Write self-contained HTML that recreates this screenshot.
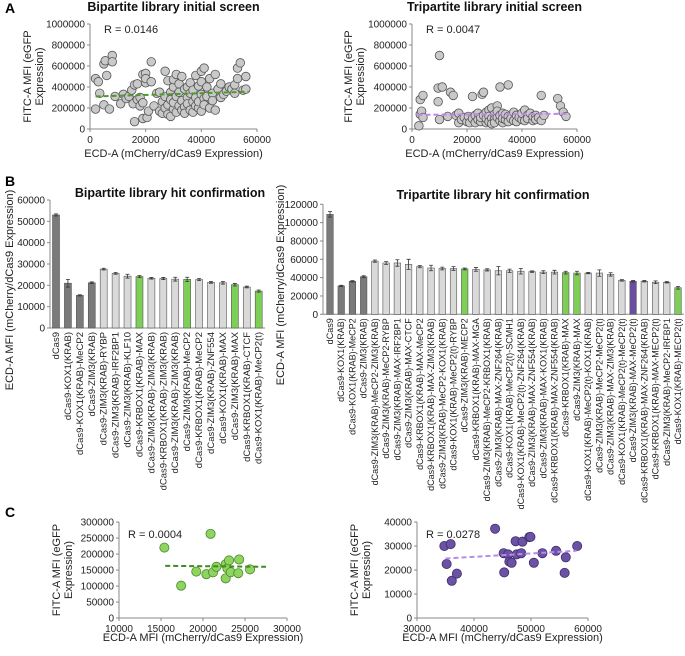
<!DOCTYPE html>
<html><head><meta charset="utf-8"><style>
html,body{margin:0;padding:0;background:#fff}
svg{display:block;font-family:"Liberation Sans",Arial,sans-serif}
</style></head><body>
<svg id="fig" width="685" height="656" viewBox="0 0 685 656" xmlns="http://www.w3.org/2000/svg">
<text x="5" y="13" font-size="14" font-weight="bold">A</text>
<text x="5" y="186" font-size="14" font-weight="bold">B</text>
<text x="5" y="517" font-size="14" font-weight="bold">C</text>
</svg>
<script>
// ---- Panel A data (x in thousands, y in thousands) ----
const aLeftX=[2,2,3,3.5,5,5,5.5,6,7,8,8,9,11,12,13,14,15,15.5,16,16,17,17,18,18,19,19,19,20,20,20,20.5,21,22,22,23,24,25,25,26,26,27,27,27,28,28,28,29,29,29,30,30,30,30,31,31,31,32,32,32,33,33,33,34,34,34,35,35,35,36,36,36,37,37,37,38,38,38,39,39,39,40,40,40,40,41,41,41,42,42,43,43,44,44,45,45,46,47,47,48,49,50,51,52,52,53,53,54,55,56,56];
const aLeftY=[480,190,450,340,230,620,650,510,190,700,640,310,240,330,290,310,370,240,420,70,280,430,300,220,520,250,100,440,530,480,110,170,640,450,220,340,350,170,150,260,550,310,200,140,460,230,120,350,280,190,400,470,250,520,160,310,220,430,350,180,270,500,210,380,150,300,400,240,180,340,440,260,160,370,220,300,510,200,410,260,450,330,170,550,580,290,230,400,310,480,200,340,270,520,180,380,300,430,330,360,400,380,420,340,580,480,630,370,500,380];
const aLeftFit=[[2,310],[57,355]];
const aRightX=[2.5,3,3,3.5,4,4,9.5,9.5,10,10,11,13,14,15,16,17,17,18,19,20,20.5,21,22,22,23,23,24,24,25,25,25.5,26,26,27,27,27,28,28,28,29,29,29,30,30,30,31,31,31,32,32,32,33,33,33,34,34,35,35,35,36,37,37,38,38,39,40,40,41,41,42,42,43,44,44,45,45,46,47,47,48,53,54,55,56];
const aRightY=[30,140,280,170,320,110,390,260,90,700,400,120,350,320,130,60,150,90,110,70,120,60,100,310,130,60,90,150,70,110,330,350,130,60,160,100,180,120,70,100,200,50,140,90,60,220,110,170,400,80,130,60,150,100,90,140,420,120,70,100,160,80,130,70,110,90,150,180,80,130,100,150,80,120,130,90,110,320,80,130,290,220,160,120];
const aRightFit=[[2,135],[57,145]];
const aTicksX=[0,20000,40000,60000];
const aTicksY=[0,200000,400000,600000,800000,1000000];
// ---- Panel B data ----
const bLeftLabels=["dCas9","dCas9-KOX1(KRAB)","dCas9-KOX1(KRAB)-MeCP2","dCas9-ZIM3(KRAB)","dCas9-ZIM3(KRAB)-RYBP","dCas9-ZIM3(KRAB)-IRF2BP1","dCas9-ZIM3(KRAB)-KLF10","dCas9-KRBOX1(KRAB)-MAX","dCas9-ZIM3(KRAB)-ZIM3(KRAB)","dCas9-KRBOX1(KRAB)-ZIM3(KRAB)","dCas9-ZIM3(KRAB)-ZIM3(KRAB)","dCas9-ZIM3(KRAB)-MeCP2","dCas9-KRBOX1(KRAB)-MeCP2","dCas9-ZIM3(KRAB)-ZNF554","dCas9-KOX1(KRAB)-MAX","dCas9-ZIM3(KRAB)-MAX","dCas9-KRBOX1(KRAB)-CTCF","dCas9-KOX1(KRAB)-MeCP2(t)"];
const bLeftValues=[53000,21000,15300,21200,27600,25600,24300,24100,23300,23200,22900,22800,22700,21400,21200,20300,19200,17300];
const bLeftErrors=[500,1800,300,400,400,400,900,500,400,500,900,1000,500,400,600,600,400,500];
const bLeftGroups=["c","c","c","c","n","n","n","g","n","n","n","g","n","n","n","g","n","g"];
const bLeftTicks=[0,10000,20000,30000,40000,50000,60000];
const bRightLabels=["dCas9","dCas9-KOX1(KRAB)","dCas9-KOX1(KRAB)-MeCP2","dCas9-ZIM3(KRAB)","dCas9-ZIM3(KRAB)-MeCP2-ZIM3(KRAB)","dCas9-ZIM3(KRAB)-MeCP2-RYBP","dCas9-ZIM3(KRAB)-MAX-IRF2BP1","dCas9-ZIM3(KRAB)-MAX-CTCF","dCas9-KRBOX1(KRAB)-MAX-MeCP2","dCas9-KRBOX1(KRAB)-MAX-ZIM3(KRAB)","dCas9-ZIM3(KRAB)-MeCP2-KOX1(KRAB)","dCas9-KOX1(KRAB)-MeCP2(t)-RYBP","dCas9-ZIM3(KRAB)-MECP2","dCas9-KRBOX1(KRAB)-MAX-MGA","dCas9-ZIM3(KRAB)-MeCP2-KRBOX1(KRAB)","dCas9-ZIM3(KRAB)-MAX-ZNF264(KRAB)","dCas9-KOX1(KRAB)-MeCP2(t)-SCMH1","dCas9-KOX1(KRAB)-MeCP2(t)-ZNF264(KRAB)","dCas9-ZIM3(KRAB)-MAX-ZNF554(KRAB)","dCas9-ZIM3(KRAB)-MAX-KOX1(KRAB)","dCas9-KRBOX1(KRAB)-MAX-ZNF554(KRAB)","dCas9-KRBOX1(KRAB)-MAX","dCas9-ZIM3(KRAB)-MAX","dCas9-KOX1(KRAB)-MeCP2(t)-KOX1(KRAB)","dCas9-ZIM3(KRAB)-MeCP2-MeCP2(t)","dCas9-ZIM3(KRAB)-MAX-ZIM3(KRAB)","dCas9-KOX1(KRAB)-MeCP2(t)-MeCP2(t)","dCas9-ZIM3(KRAB)-MAX-MeCP2(t)","dCas9-KRBOX1(KRAB)-MAX-ZNF264(KRAB)","dCas9-KRBOX1(KRAB)-MAX-MECP2(t)","dCas9-ZIM3(KRAB)-MeCP2-IRFBP1","dCas9-KOX1(KRAB)-MECP2(t)"];
const bRightValues=[109000,31000,36000,41000,58000,56000,56000,54500,52000,50500,50000,50000,49500,49000,48500,47500,47500,47000,46500,46000,46000,45500,45000,45000,45000,43500,37000,36000,36000,35000,35000,29000];
const bRightErrors=[3000,700,700,1000,1200,1500,3500,5500,1200,3000,1500,2000,1000,2000,1200,4500,1800,3000,800,1500,2000,1500,2000,700,3500,1800,800,800,800,1500,800,1500];
const bRightGroups=["c","c","c","c","n","n","n","n","n","n","n","n","g","n","n","n","n","n","n","n","n","g","g","n","n","n","n","p","n","n","n","g"];
const bRightTicks=[0,20000,40000,60000,80000,100000,120000];
// ---- Panel C data ----
const cLeftX=[15400,17400,19200,20400,20900,21200,21600,22700,22700,22900,23100,23300,24200,24300,25600];
const cLeftY=[220000,101000,145000,137000,263000,143000,160000,168000,124000,155000,180000,143000,140000,183000,152000];
const cLeftFit=[[15500,163000],[27500,160000]];
const cLeftTicksX=[10000,15000,20000,25000,30000];
const cLeftTicksY=[0,50000,100000,150000,200000,250000,300000];
const cRightX=[34800,35200,35900,36100,37000,43700,45200,45300,46000,46200,46600,47300,47500,48300,48500,49700,49900,50500,52000,54400,55900,56100,58100];
const cRightY=[30000,22500,30800,15500,18500,37200,27000,19000,26500,23500,23000,32000,26500,27000,31800,33700,33800,23000,27000,28000,18800,25300,30000];
const cRightFit=[[35000,24800],[58000,28000]];
const cRightTicksX=[30000,40000,50000,60000];
const cRightTicksY=[0,10000,20000,30000,40000];

const NS="http://www.w3.org/2000/svg";
const svg=document.getElementById('fig');
function el(tag,attrs,parent){const e=document.createElementNS(NS,tag);for(const k in attrs)e.setAttribute(k,attrs[k]);(parent||svg).appendChild(e);return e;}
function txt(x,y,s,attrs,parent){const t=el('text',Object.assign({x:x,y:y,'font-size':10,fill:'#222'},attrs||{}),parent);t.textContent=s;return t;}
function lin(d0,d1,r0,r1){return v=>r0+(v-d0)/(d1-d0)*(r1-r0);}

function scatter(o){
  const g=el('g',{});
  
  
  const sx=lin(o.xd[0],o.xd[1],o.x0,o.x1), sy=lin(o.yd[0],o.yd[1],o.y0,o.y1);
  const ax=el('path',{d:`M${o.x0},${o.y1} V${o.y0} H${o.x1}`,stroke:'#888',fill:'none','stroke-width':1},g);
  
  
  o.ty.forEach(v=>{const y=sy(v);el('line',{x1:o.x0-3,x2:o.x0,y1:y,y2:y,stroke:'#888'},g);
    const t=txt(o.x0-5,y+3.5,String(v),{'text-anchor':'end','font-size':o.fs},g);
    
    });
  o.tx.forEach(v=>{const x=sx(v);el('line',{x1:x,x2:x,y1:o.y0,y2:o.y0+3,stroke:'#888'},g);
    const t=txt(x,o.y0+14,String(v),{'text-anchor':'middle','font-size':o.fs},g);
    
    });
  o.X.forEach((xv,i)=>{const c=el('circle',{cx:sx(xv*o.mul),cy:sy(o.Y[i]*o.mul),r:o.r,fill:o.fill,stroke:o.edge,'stroke-width':0.8},g);
    
    });
  const f=o.fit;
  const fl=el('line',{x1:sx(f[0][0]*o.mul),y1:sy(f[0][1]*o.mul),x2:sx(f[1][0]*o.mul),y2:sy(f[1][1]*o.mul),stroke:o.line,'stroke-width':2,'stroke-dasharray':'5,3'},g);
  
  
  const r=txt(o.rx,o.ry,o.rtext,{'font-size':11},g);
  
  
  if(o.title){const t=txt((o.x0+o.x1)/2,o.titleY,o.title,{'text-anchor':'middle','font-size':12.5,'font-weight':'bold',fill:'#111'},g);
    
    }
  const xt=txt((o.x0+o.x1)/2,o.xtY,o.xtitle,{'text-anchor':'middle','font-size':11},g);
  
  
  const cy=(o.y0+o.y1)/2;
  const y1=txt(0,0,'FITC-A MFI (eGFP',{'text-anchor':'middle','font-size':11,transform:`translate(${o.ytX},${cy}) rotate(-90)`},g);
  
  
  const y2=txt(0,0,'Expression)',{'text-anchor':'middle','font-size':11,transform:`translate(${o.ytX+12},${cy}) rotate(-90)`},g);
  
  
}
const baseA={r:4.3,fill:'#c9c9c9',edge:'#555',mul:1000,xd:[0,60000],yd:[0,1000000],tx:aTicksX,ty:aTicksY,fs:10,xtitle:'ECD-A (mCherry/dCas9 Expression)',xtY:157};
scatter(Object.assign({},baseA,{name:'scatter-bipartite-initial',X:aLeftX,Y:aLeftY,fit:aLeftFit,x0:90,x1:257,y0:129,y1:24,line:'#4f9a2a',rx:104,ry:33,rtext:'R = 0.0146',title:'Bipartite library initial screen',titleY:11,ytX:31}));
scatter(Object.assign({},baseA,{name:'scatter-tripartite-initial',X:aRightX,Y:aRightY,fit:aRightFit,x0:412,x1:577,y0:129,y1:24,line:'#c084ec',rx:426,ry:33,rtext:'R = 0.0047',title:'Tripartite library initial screen',titleY:11,ytX:352}));
const baseC={mul:1,fs:10,xtitle:'ECD-A MFI (mCherry/dCas9 Expression)',xtY:641,r:4.6};
scatter(Object.assign({},baseC,{name:'scatter-bipartite-hits',X:cLeftX,Y:cLeftY,fit:cLeftFit,xd:[10000,30000],yd:[0,300000],x0:119,x1:287,y0:618,y1:522,tx:cLeftTicksX,ty:cLeftTicksY,fill:'#8fd460',edge:'#4a8a2a',line:'#3f8a1f',rx:128,ry:538,rtext:'R = 0.0004',ytX:60}));
scatter(Object.assign({},baseC,{name:'scatter-tripartite-hits',X:cRightX,Y:cRightY,fit:cRightFit,xd:[30000,60000],yd:[0,40000],x0:417,x1:588,y0:618,y1:522,tx:cRightTicksX,ty:cRightTicksY,fill:'#6b52a3',edge:'#3e2d6e',line:'#b98be8',rx:426,ry:538,rtext:'R = 0.0278',ytX:358}));

function bars(o){
  const g=el('g',{});
  
  
  const sy=lin(0,o.ymax,o.y0,o.y1);
  const n=o.values.length;
  const step=(o.lastX-o.firstX)/(n-1);
  const bx=i=>o.firstX+i*step;
  const ax=el('path',{d:`M${o.x0},${o.y1} V${o.y0} H${o.x1}`,stroke:'#888',fill:'none'},g);
  
  
  o.ticks.forEach(v=>{const y=sy(v);el('line',{x1:o.x0-3,x2:o.x0,y1:y,y2:y,stroke:'#888'},g);
    const t=txt(o.x0-5,y+3.5,String(v),{'text-anchor':'end','font-size':10},g);
    
    });
  const col={c:'#7a7a7a',n:'#d9d9d9',g:'#7dcf56',p:'#6a4fa0'};
  o.values.forEach((v,i)=>{const x=bx(i),w=o.bw;
    const r=el('rect',{x:x-w/2,y:sy(v),width:w,height:o.y0-sy(v),fill:col[o.groups[i]],stroke:'#555','stroke-width':0.6},g);
    
    
    const e=o.errors[i];
    const eb=el('path',{d:`M${x},${sy(v+e)} V${sy(v-e)} M${x-2},${sy(v+e)} H${x+2} M${x-2},${sy(v-e)} H${x+2}`,stroke:'#333','stroke-width':0.8,fill:'none'},g);
    
    
    const t=txt(0,0,o.labels[i],{'text-anchor':'end','font-size':o.lfs,transform:`translate(${x+3},${o.y0+4}) rotate(-90)`},g);
    
    });
  const ti=txt(o.titleX,o.titleY,o.title,{'text-anchor':'middle','font-size':12.5,'font-weight':'bold',fill:'#111'},g);
  
  
  const yt=txt(0,0,'ECD-A MFI (mCherry/dCas9 Expression)',{'text-anchor':'middle','font-size':11,transform:`translate(${o.ytX},${o.ytY}) rotate(-90)`},g);
  
  
}
bars({name:'bar-chart-bipartite-hits',labels:bLeftLabels,values:bLeftValues,errors:bLeftErrors,groups:bLeftGroups,ticks:bLeftTicks,ymax:60000,x0:50,x1:265,y0:328,y1:200,firstX:56,lastX:258.7,bw:7,lfs:9.5,title:'Bipartite library hit confirmation',titleX:170,titleY:197,ytX:13,ytY:290});
bars({name:'bar-chart-tripartite-hits',labels:bRightLabels,values:bRightValues,errors:bRightErrors,groups:bRightGroups,ticks:bRightTicks,ymax:120000,x0:323,x1:684,y0:314.3,y1:204.3,firstX:330,lastX:678,bw:6.5,lfs:9,title:'Tripartite library hit confirmation',titleX:493,titleY:199,ytX:284,ytY:285});
</script>
</body></html>
